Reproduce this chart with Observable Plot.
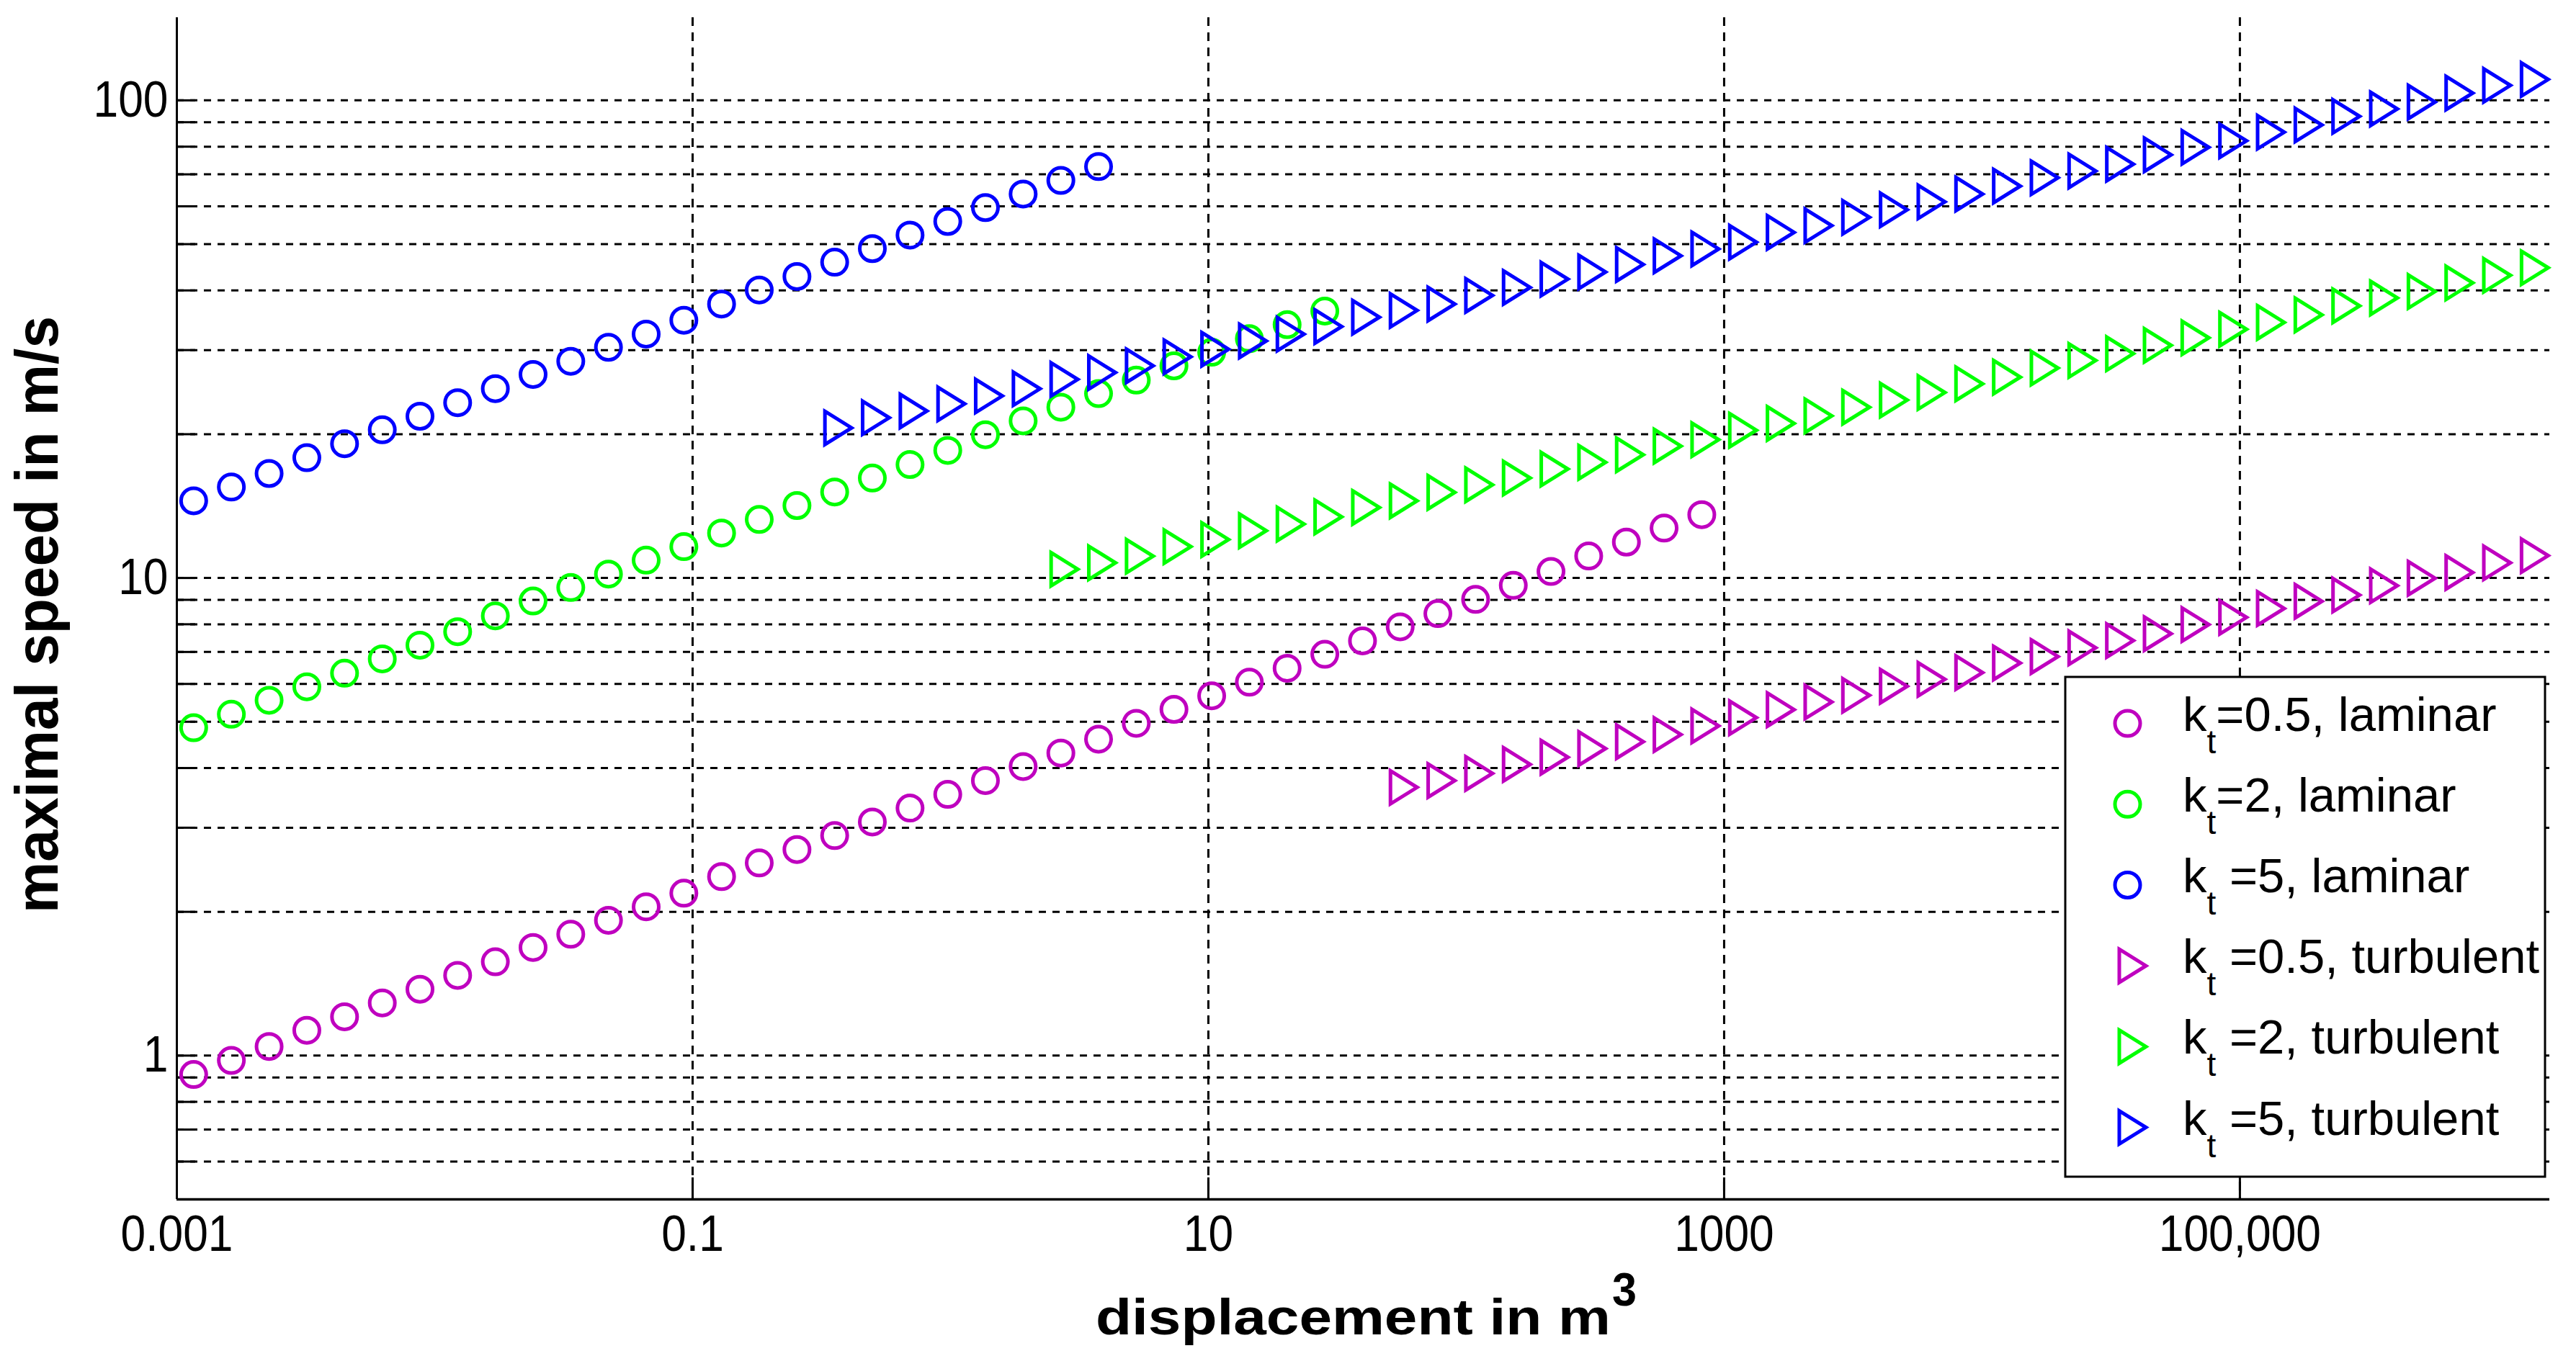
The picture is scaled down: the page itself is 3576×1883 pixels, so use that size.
<!DOCTYPE html>
<html><head><meta charset="utf-8">
<script src="https://cdn.jsdelivr.net/npm/d3@7"></script>
<script src="https://cdn.jsdelivr.net/npm/@observablehq/plot@0.6"></script>
<style>
html,body{margin:0;padding:0;background:#fff;overflow:hidden;}
#chart{position:relative;width:3576px;height:1883px;}
</style></head><body><div id="chart"></div>
<script>
// ---------- data ----------
const volumes = [0.001162, 0.001627, 0.002279, 0.003192, 0.00447, 0.00626, 0.008766, 0.01227, 0.01718, 0.02406,
  0.03369, 0.04717, 0.06605, 0.09247, 0.1295, 0.1813, 0.2539, 0.3555, 0.4977, 0.6969,
  0.9759, 1.366, 1.913, 2.679, 3.751, 5.253, 7.355, 10.30, 14.42, 20.20,
  28.28, 39.60, 55.44, 77.62, 108.7, 152.2, 213.1, 298.4, 417.8, 585.0,
  819.1, 1147, 1606, 2249, 3149, 4409, 6174, 8645, 12106, 16950,
  23735, 33235, 46536, 65163, 91247, 127762, 178898, 250504, 350752, 491155,
  687702, 962946, 1348400];

const speedLaminarK05 = [0.913, 0.977, 1.045, 1.130, 1.206, 1.289, 1.377, 1.472, 1.572, 1.684,
  1.795, 1.920, 2.049, 2.188, 2.370, 2.531, 2.701, 2.888, 3.084, 3.298,
  3.523, 3.766, 4.029, 4.300, 4.598, 4.963, 5.309, 5.667, 6.050, 6.471,
  6.922, 7.386, 7.901, 8.421, 9.02, 9.65, 10.32, 11.12, 11.89, 12.72, 13.57];
const speedLaminarK2 = [4.857, 5.185, 5.545, 5.919, 6.319, 6.770, 7.232, 7.719, 8.331, 8.95,
  9.55, 10.19, 10.90, 11.63, 12.42, 13.26, 14.18, 15.14, 16.19, 17.28,
  18.5, 19.95, 21.33, 22.78, 24.32, 25.96, 27.81, 29.70, 31.70, 33.91, 36.21];
const speedLaminarK5 = [14.51, 15.50, 16.55, 17.86, 19.10, 20.43, 21.81, 23.28, 24.91, 26.68,
  28.43, 30.41, 32.41, 34.65, 37.46, 40.08, 42.78, 45.84, 48.93, 52.23,
  55.78, 59.64, 63.67, 67.98, 72.68];
const speedTurbulentK05 = [3.645, 3.766, 3.898, 4.072, 4.215, 4.395, 4.542, 4.700, 4.900, 5.10,
  5.30, 5.499, 5.679, 5.934, 6.136, 6.339, 6.637, 6.848, 7.141, 7.393,
  7.646, 7.988, 8.271, 8.634, 8.940, 9.211, 9.636, 9.989, 10.27, 10.76, 11.14];
const speedTurbulentK2 = [10.43, 10.76, 11.11, 11.63, 12.04, 12.56, 12.97, 13.43, 14.05, 14.51,
  15.11, 15.67, 16.19, 16.91, 17.47, 18.12, 18.89, 19.48, 20.39, 21.07,
  21.85, 22.78, 23.58, 24.45, 25.50, 26.34, 27.51, 28.54, 29.49, 30.69,
  31.83, 33.18, 34.28, 35.56, 37.13, 38.58, 39.79, 41.49, 43.03, 44.61];
const speedTurbulentK5 = [20.62, 21.65, 22.37, 23.15, 24.05, 24.90, 26.05, 26.92, 27.82, 29.05,
  30.13, 31.36, 32.41, 33.61, 35.16, 36.33, 37.46, 39.06, 40.57, 42.24,
  43.71, 45.35, 47.28, 48.85, 50.47, 52.91, 54.67, 56.90, 59.01, 61.31,
  63.67, 66.15, 68.85, 71.15, 73.52, 76.91, 79.76, 82.27, 85.78, 88.81,
  92.58, 95.99, 99.20, 103.6, 107.5, 110.6];
// index into `volumes` of each series' first point
const seriesStart = [0, 0, 0, 32, 23, 17];
const seriesColors = ["#BF00BF", "#00FF00", "#0000FF", "#BF00BF", "#00FF00", "#0000FF"];
const seriesShapes = ["circle", "circle", "circle", "triangle", "triangle", "triangle"];
const legendSuffix = ["=0.5, laminar", "=2, laminar", " =5, laminar", " =0.5, turbulent", " =2, turbulent", " =5, turbulent"];

const xTickValues = [0.001, 0.1, 10, 1000, 100000];
const xTickLabels = ["0.001", "0.1", "10", "1000", "100,000"];
const yTickValues = [1, 10, 100];
const yTickLabels = ["1", "10", "100"];
const yGridValues = [0.6, 0.7, 0.8, 0.9, 1, 2, 3, 4, 5, 6, 7, 8, 9, 10, 20, 30, 40, 50, 60, 70, 80, 90, 100];
const xGridValues = [0.1, 10, 1000, 100000];
const xDomain = [0.001, 1.59e6];
const yDomain = [0.5, 149];
const xTitle = "displacement in m";
const xTitleSup = "3";
const yTitle = "maximal speed in m/s";

// ---------- layout ----------
const W = 3576, H = 1883;
const mL = 245, mR = 37, mT = 24, mB = 218;
const frameW = W - mL - mR, frameH = H - mT - mB;
const FONT = "'Liberation Sans', Arial, Helvetica, sans-serif";

const triangleRight = {
  draw(ctx, size) {
    const r = Math.sqrt(size / Math.PI);
    ctx.moveTo(-0.587 * r, -r);
    ctx.lineTo(1.022 * r, 0);
    ctx.lineTo(-0.587 * r, r);
    ctx.closePath();
  }
};

const allSeries = [speedLaminarK05, speedLaminarK2, speedLaminarK5, speedTurbulentK05, speedTurbulentK2, speedTurbulentK5];
const seriesMarks = allSeries.map((vals, s) => {
  const data = vals.map((v, i) => ({volume: volumes[seriesStart[s] + i], speed: v}));
  if (seriesShapes[s] === "circle") {
    return Plot.dot(data, {x: "volume", y: "speed", r: 17.5, stroke: seriesColors[s], strokeWidth: 5, fill: "none"});
  }
  return Plot.dot(data, {x: "volume", y: "speed", r: 23, symbol: triangleRight, stroke: seriesColors[s], strokeWidth: 5, fill: "none", strokeLinejoin: "miter"});
});

const xFmt = new Map(xTickValues.map((v, i) => [v, xTickLabels[i]]));
const yFmt = new Map(yTickValues.map((v, i) => [v, yTickLabels[i]]));

const plot = Plot.plot({
  width: W, height: H,
  marginLeft: mL, marginRight: mR, marginTop: mT, marginBottom: mB,
  x: {type: "log", domain: xDomain, label: null},
  y: {type: "log", domain: yDomain, label: null},
  style: {fontFamily: FONT, background: "white", color: "black"},
  marks: [
    Plot.ruleY(yGridValues, {stroke: "#000", strokeWidth: 3, strokeDasharray: "10,9"}),
    Plot.ruleX(xGridValues, {stroke: "#000", strokeWidth: 3, strokeDasharray: "12,9"}),
    Plot.tickY(yGridValues, {y: d => d, insetRight: frameW - 26, stroke: "#000", strokeWidth: 3}),
    Plot.tickX(xTickValues, {x: d => d, insetTop: frameH - 30, stroke: "#000", strokeWidth: 3}),
    Plot.ruleX([xDomain[0]], {stroke: "#000", strokeWidth: 3}),
    Plot.ruleY([yDomain[0]], {stroke: "#000", strokeWidth: 3.5}),
    ...seriesMarks,
    Plot.axisX(xTickValues, {tickSize: 0, tickPadding: 22, fontSize: 70, label: null, tickFormat: d => xFmt.get(d), fill: "#000"}),
    Plot.axisY(yTickValues, {tickSize: 0, tickPadding: 12, fontSize: 70, label: null, tickFormat: d => yFmt.get(d), fill: "#000"})
  ]
});

document.getElementById("chart").appendChild(plot);
const svg = d3.select(plot);

// narrower tick-label glyphs like the reference
svg.selectAll('g[aria-label="x-axis tick label"] text, g[aria-label="y-axis tick label"] text').each(function () {
  const w = this.getComputedTextLength();
  if (w > 0) { this.setAttribute("textLength", (w * 0.89).toFixed(1)); this.setAttribute("lengthAdjust", "spacingAndGlyphs"); }
});

// axis titles
svg.append("text")
  .attr("transform", "translate(80,853.5) rotate(-90)")
  .attr("text-anchor", "middle")
  .attr("font-family", FONT).attr("font-weight", "bold").attr("font-size", 83)
  .attr("textLength", 829).attr("lengthAdjust", "spacingAndGlyphs")
  .attr("fill", "#000")
  .text(yTitle);
svg.append("text")
  .attr("x", 1521).attr("y", 1853)
  .attr("text-anchor", "start")
  .attr("font-family", FONT).attr("font-weight", "bold").attr("font-size", 70)
  .attr("textLength", 715).attr("lengthAdjust", "spacingAndGlyphs")
  .attr("fill", "#000")
  .text(xTitle);
svg.append("text")
  .attr("x", 2238).attr("y", 1813)
  .attr("text-anchor", "start")
  .attr("font-family", FONT).attr("font-weight", "bold").attr("font-size", 64)
  .attr("textLength", 34).attr("lengthAdjust", "spacingAndGlyphs")
  .attr("fill", "#000")
  .text(xTitleSup);

// legend (inside the axes, bottom right)
const lg = svg.append("g").attr("font-family", FONT).attr("text-anchor", "start");
lg.append("rect").attr("x", 2867).attr("y", 940).attr("width", 666).attr("height", 694)
  .attr("fill", "#fff").attr("stroke", "#000").attr("stroke-width", 3);
legendSuffix.forEach((suffix, i) => {
  const cy = 1004.6 + 112.2 * i;
  if (seriesShapes[i] === "circle") {
    lg.append("circle").attr("cx", 2953.5).attr("cy", cy).attr("r", 17.5)
      .attr("fill", "none").attr("stroke", seriesColors[i]).attr("stroke-width", 5);
  } else {
    lg.append("path").attr("transform", `translate(2955.5,${cy})`)
      .attr("d", d3.symbol(triangleRight, Math.PI * 23 * 23)())
      .attr("fill", "none").attr("stroke", seriesColors[i]).attr("stroke-width", 5).attr("stroke-linejoin", "miter");
  }
  const t = lg.append("text").attr("x", 3030).attr("y", cy + 10).attr("font-size", 67)
    .attr("text-anchor", "start")
    .attr("fill", "#000").style("white-space", "pre");
  t.append("tspan").text("k");
  t.append("tspan").attr("font-size", 46).attr("dy", 31).text("t");
  t.append("tspan").attr("dy", -31).text(suffix);
});
</script>
</body></html>
